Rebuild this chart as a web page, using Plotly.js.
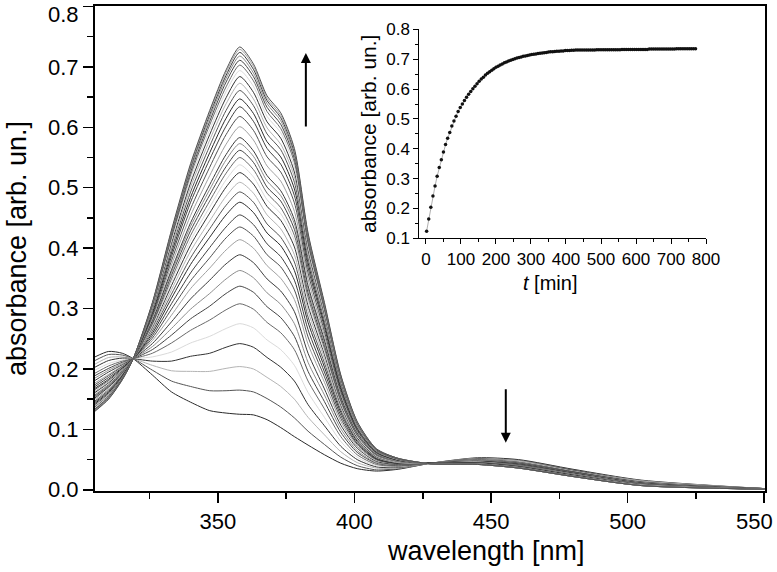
<!DOCTYPE html>
<html>
<head>
<meta charset="utf-8">
<script src="https://cdn.plot.ly/plotly-3.0.1.min.js"></script>
<style>html,body{margin:0;padding:0;background:#fff;}#chart{width:777px;height:572px;}</style>
</head>
<body>
<div id="chart"></div>
<script>
// ---- data: absorption spectra (wavelength in nm) ----
const wavelength = [305,310,315,319,326,333,340,347,353,358,363,368,373,378,383,389,395,401,408,416,428,445,460,480,505,550];

const A01 = [0.220,0.229,0.226,0.217,0.190,0.162,0.145,0.131,0.127,0.125,0.124,0.116,0.103,0.088,0.074,0.058,0.044,0.035,0.031,0.034,0.044,0.053,0.050,0.034,0.016,0.002];
const A02 = [0.214,0.224,0.223,0.217,0.198,0.180,0.171,0.164,0.164,0.165,0.162,0.151,0.137,0.119,0.097,0.075,0.054,0.040,0.033,0.035,0.044,0.052,0.049,0.033,0.015,0.002];
const A03 = [0.208,0.219,0.220,0.217,0.206,0.197,0.196,0.196,0.201,0.204,0.200,0.186,0.171,0.150,0.120,0.091,0.063,0.045,0.036,0.036,0.044,0.052,0.048,0.032,0.015,0.002];
const A04 = [0.203,0.214,0.218,0.217,0.213,0.213,0.221,0.226,0.236,0.242,0.236,0.219,0.203,0.180,0.141,0.106,0.072,0.050,0.038,0.037,0.044,0.051,0.047,0.032,0.014,0.002];
const A05 = [0.198,0.209,0.215,0.217,0.220,0.228,0.243,0.254,0.267,0.275,0.268,0.248,0.232,0.206,0.161,0.120,0.080,0.054,0.040,0.038,0.044,0.050,0.047,0.031,0.014,0.002];
const A06 = [0.193,0.205,0.213,0.217,0.226,0.243,0.264,0.281,0.298,0.308,0.299,0.277,0.260,0.232,0.180,0.134,0.088,0.058,0.042,0.039,0.044,0.050,0.046,0.030,0.013,0.002];
const A07 = [0.189,0.201,0.211,0.217,0.232,0.256,0.283,0.304,0.325,0.337,0.327,0.303,0.285,0.254,0.196,0.146,0.095,0.062,0.044,0.040,0.044,0.049,0.045,0.030,0.013,0.002];
const A08 = [0.185,0.198,0.209,0.217,0.237,0.267,0.299,0.325,0.349,0.363,0.351,0.326,0.307,0.275,0.211,0.157,0.101,0.065,0.045,0.041,0.044,0.049,0.045,0.029,0.012,0.002];
const A09 = [0.181,0.195,0.207,0.217,0.242,0.278,0.316,0.347,0.374,0.389,0.376,0.349,0.329,0.295,0.226,0.167,0.107,0.069,0.047,0.042,0.044,0.048,0.044,0.029,0.012,0.002];
const A10 = [0.177,0.191,0.205,0.217,0.247,0.289,0.333,0.367,0.397,0.414,0.400,0.371,0.350,0.315,0.241,0.178,0.113,0.072,0.049,0.043,0.044,0.048,0.043,0.028,0.012,0.002];
const A11 = [0.174,0.189,0.204,0.217,0.251,0.299,0.346,0.384,0.417,0.435,0.420,0.389,0.369,0.331,0.253,0.187,0.118,0.075,0.050,0.043,0.044,0.047,0.043,0.028,0.011,0.002];
const A12 = [0.171,0.186,0.202,0.217,0.255,0.308,0.359,0.401,0.435,0.455,0.439,0.407,0.386,0.347,0.265,0.195,0.123,0.077,0.051,0.044,0.044,0.047,0.042,0.027,0.011,0.001];
const A13 = [0.168,0.183,0.201,0.217,0.259,0.317,0.373,0.418,0.455,0.476,0.459,0.425,0.404,0.363,0.277,0.203,0.128,0.080,0.052,0.044,0.044,0.047,0.042,0.027,0.011,0.001];
const A14 = [0.166,0.181,0.199,0.217,0.263,0.324,0.384,0.432,0.471,0.493,0.476,0.440,0.418,0.377,0.286,0.210,0.132,0.082,0.053,0.045,0.044,0.046,0.042,0.027,0.011,0.001];
const A15 = [0.163,0.179,0.198,0.217,0.266,0.331,0.395,0.445,0.486,0.509,0.491,0.455,0.432,0.389,0.296,0.217,0.136,0.084,0.054,0.045,0.044,0.046,0.041,0.026,0.010,0.001];
const A16 = [0.161,0.177,0.197,0.217,0.269,0.338,0.405,0.458,0.501,0.525,0.506,0.469,0.446,0.402,0.305,0.224,0.140,0.086,0.055,0.046,0.044,0.046,0.041,0.026,0.010,0.001];
const A17 = [0.159,0.175,0.196,0.217,0.271,0.344,0.413,0.468,0.513,0.538,0.518,0.480,0.457,0.412,0.312,0.229,0.143,0.088,0.056,0.046,0.044,0.046,0.040,0.026,0.010,0.001];
const A18 = [0.157,0.174,0.195,0.217,0.274,0.349,0.421,0.478,0.524,0.550,0.530,0.491,0.467,0.421,0.319,0.234,0.146,0.090,0.057,0.047,0.044,0.045,0.040,0.026,0.010,0.001];
const A19 = [0.155,0.172,0.194,0.217,0.276,0.355,0.429,0.488,0.535,0.562,0.542,0.501,0.478,0.431,0.326,0.239,0.149,0.091,0.058,0.047,0.044,0.045,0.040,0.025,0.010,0.001];
const A20 = [0.154,0.171,0.194,0.217,0.278,0.360,0.436,0.497,0.546,0.573,0.552,0.511,0.487,0.440,0.333,0.244,0.152,0.092,0.058,0.047,0.044,0.045,0.040,0.025,0.009,0.001];
const A21 = [0.152,0.170,0.193,0.217,0.280,0.364,0.442,0.505,0.555,0.583,0.561,0.520,0.495,0.447,0.338,0.248,0.154,0.094,0.059,0.048,0.044,0.045,0.039,0.025,0.009,0.001];
const A22 = [0.150,0.167,0.192,0.217,0.284,0.372,0.454,0.520,0.572,0.601,0.579,0.536,0.511,0.461,0.349,0.255,0.158,0.096,0.060,0.048,0.044,0.044,0.039,0.025,0.009,0.001];
const A23 = [0.147,0.165,0.190,0.217,0.287,0.379,0.465,0.534,0.588,0.618,0.595,0.551,0.526,0.475,0.359,0.262,0.162,0.098,0.061,0.049,0.044,0.044,0.039,0.024,0.009,0.001];
const A24 = [0.145,0.163,0.189,0.217,0.290,0.386,0.476,0.547,0.602,0.634,0.610,0.565,0.539,0.487,0.368,0.269,0.166,0.100,0.062,0.049,0.044,0.044,0.038,0.024,0.008,0.001];
const A25 = [0.143,0.161,0.188,0.217,0.293,0.392,0.484,0.558,0.615,0.647,0.623,0.576,0.551,0.498,0.376,0.274,0.169,0.102,0.063,0.049,0.044,0.044,0.038,0.024,0.008,0.001];
const A26 = [0.141,0.159,0.187,0.217,0.296,0.398,0.493,0.569,0.628,0.661,0.636,0.589,0.563,0.509,0.384,0.280,0.173,0.104,0.064,0.050,0.043,0.043,0.038,0.023,0.008,0.001];
const A27 = [0.139,0.158,0.186,0.217,0.298,0.403,0.501,0.579,0.639,0.673,0.647,0.599,0.572,0.518,0.390,0.285,0.176,0.105,0.064,0.050,0.043,0.043,0.037,0.023,0.008,0.001];
const A28 = [0.137,0.156,0.186,0.217,0.300,0.408,0.508,0.588,0.649,0.684,0.658,0.609,0.582,0.526,0.397,0.290,0.178,0.107,0.065,0.051,0.043,0.043,0.037,0.023,0.008,0.001];
const A29 = [0.136,0.155,0.185,0.217,0.302,0.413,0.515,0.596,0.659,0.694,0.668,0.618,0.591,0.534,0.403,0.294,0.181,0.108,0.066,0.051,0.043,0.043,0.037,0.023,0.008,0.001];
const A30 = [0.134,0.154,0.184,0.217,0.304,0.417,0.521,0.604,0.667,0.703,0.677,0.626,0.598,0.542,0.408,0.298,0.183,0.109,0.066,0.051,0.043,0.043,0.037,0.023,0.007,0.001];
const A31 = [0.133,0.153,0.184,0.217,0.306,0.420,0.526,0.610,0.675,0.711,0.684,0.633,0.605,0.548,0.412,0.301,0.185,0.110,0.067,0.051,0.043,0.042,0.036,0.022,0.007,0.001];
const A32 = [0.132,0.152,0.183,0.217,0.307,0.423,0.530,0.616,0.681,0.718,0.690,0.639,0.611,0.553,0.416,0.304,0.186,0.111,0.067,0.052,0.043,0.042,0.036,0.022,0.007,0.001];
const A33 = [0.131,0.151,0.183,0.217,0.308,0.426,0.534,0.621,0.686,0.724,0.696,0.644,0.616,0.558,0.420,0.306,0.188,0.112,0.067,0.052,0.043,0.042,0.036,0.022,0.007,0.001];
const A34 = [0.131,0.151,0.182,0.217,0.309,0.428,0.537,0.625,0.691,0.729,0.701,0.648,0.620,0.562,0.423,0.308,0.189,0.112,0.068,0.052,0.043,0.042,0.036,0.022,0.007,0.001];
const A35 = [0.130,0.150,0.182,0.217,0.310,0.430,0.540,0.628,0.695,0.733,0.705,0.652,0.624,0.565,0.425,0.310,0.190,0.113,0.068,0.052,0.043,0.042,0.036,0.022,0.007,0.001];

const spectra = [A01,A02,A03,A04,A05,A06,A07,A08,A09,A10,A11,A12,A13,A14,A15,A16,A17,A18,A19,A20,
                 A21,A22,A23,A24,A25,A26,A27,A28,A29,A30,A31,A32,A33,A34,A35];

// ---- data: inset kinetics (absorbance at band maximum vs time) ----
const timeMin = [2,8,14,20,26,32,38,44,50,56,62,68,74,80,86,92,98,104,110,116,122,128,134,140,146,152,158,164,170,176,
  182,188,194,200,206,212,218,224,230,236,242,248,254,260,266,272,278,284,290,296,302,308,314,320,326,332,338,344,350,356,
  362,368,374,380,386,392,398,404,410,416,422,428,434,440,446,452,458,464,470,476,482,488,494,500,506,512,518,524,530,536,
  542,548,554,560,566,572,578,584,590,596,602,608,614,620,626,632,638,644,650,656,662,668,674,680,686,692,698,704,710,716,
  722,728,734,740,746,752,758,764,770];
const absMax = [0.124,0.165,0.204,0.242,0.275,0.308,0.337,0.363,0.389,0.414,0.435,0.455,0.476,0.493,0.509,0.525,0.538,0.550,0.562,0.573,
  0.583,0.592,0.601,0.610,0.618,0.626,0.634,0.640,0.647,0.653,0.658,0.663,0.668,0.673,0.677,0.681,0.684,0.688,0.691,0.694,
  0.697,0.699,0.702,0.704,0.706,0.708,0.710,0.711,0.713,0.714,0.716,0.717,0.718,0.719,0.720,0.721,0.722,0.723,0.724,0.725,
  0.725,0.726,0.727,0.727,0.728,0.728,0.729,0.729,0.729,0.730,0.730,
  0.731,0.731,0.731,0.731,0.731,0.731,0.731,0.731,0.731,0.731,
  0.732,0.732,0.732,0.732,0.732,0.732,0.732,0.732,0.732,0.732,0.732,0.732,
  0.733,0.733,0.733,0.733,0.733,0.733,0.733,0.733,0.733,0.733,0.733,0.733,0.733,
  0.734,0.734,0.734,0.734,0.734,0.734,0.734,0.734,0.734,0.734,0.734,0.734,0.734,
  0.735,0.735,0.735,0.735,0.735,0.735,0.735,0.735,0.735,0.735];

// ---- tick labels ----
const wlTicks = [350, 400, 450, 500, 550];
const wlTickText = ['350', '400', '450', '500', ''];   // '550' drawn as a shifted label (edge of figure)
const absTicks = [0, 0.1, 0.2, 0.3, 0.4, 0.5, 0.6, 0.7, 0.8];
const absTickText = ['0.0', '0.1', '0.2', '0.3', '0.4', '0.5', '0.6', '0.7', ''];  // '0.8' drawn as a shifted label
const tTicks = [0, 100, 200, 300, 400, 500, 600, 700, 800];

// ---- styles ----
const grayCycle = ['#2a2a2a','#555555','#b4b4b4','#333333','#dadada','#6a6a6a','#444444','#8c8c8c','#3a3a3a','#a0a0a0','#505050','#404040'];

const traces = spectra.map((ys, i) => ({
  x: wavelength, y: ys, type: 'scatter', mode: 'lines',
  line: {color: grayCycle[i % grayCycle.length], width: 1, shape: 'spline', smoothing: 0.7},
  xaxis: 'x', yaxis: 'y', hoverinfo: 'skip'
}));

traces.push({
  x: timeMin, y: absMax, type: 'scatter', mode: 'lines+markers',
  line: {color: '#9a9a9a', width: 0.8},
  marker: {color: '#111', size: 3.5},
  xaxis: 'x2', yaxis: 'y2', hoverinfo: 'skip'
});

const FONT = 'Liberation Sans, Arial, Helvetica, sans-serif';
const axisCommon = {showgrid: false, zeroline: false, showline: true, linecolor: '#000', tickcolor: '#000', ticks: 'outside'};

const layout = {
  width: 777, height: 572,
  margin: {l: 95, r: 12, t: 6, b: 81},
  paper_bgcolor: '#fff', plot_bgcolor: '#fff',
  showlegend: false,
  font: {family: FONT, color: '#000'},
  xaxis: Object.assign({}, axisCommon, {
    range: [305, 550.3], tickmode: 'array', tickvals: wlTicks, ticktext: wlTickText,
    ticklen: 10, tickwidth: 1.5, linewidth: 2, mirror: true,
    tickfont: {size: 22, family: FONT},
    minor: {tickvals: [325, 375, 425, 475, 525], ticks: 'outside', ticklen: 6, tickwidth: 1.5, tickcolor: '#000', showgrid: false},
    automargin: false
  }),
  yaxis: Object.assign({}, axisCommon, {
    range: [-0.002, 0.8008], tickmode: 'array', tickvals: absTicks, ticktext: absTickText,
    ticklen: 10, tickwidth: 1.5, linewidth: 2, mirror: true,
    tickfont: {size: 22, family: FONT},
    minor: {dtick: 0.05, tick0: 0, ticks: 'outside', ticklen: 6, tickwidth: 1.5, tickcolor: '#000', showgrid: false},
    title: {text: 'absorbance [arb. un.]', font: {size: 27, family: FONT}, standoff: 14},
    automargin: false
  }),
  xaxis2: Object.assign({}, axisCommon, {
    domain: [0.484, 0.912], anchor: 'y2', range: [-19, 800],
    tickvals: tTicks,
    ticklen: 5, tickwidth: 1, linewidth: 1,
    tickfont: {size: 17, family: FONT},
    minor: {tickvals: [50, 150, 250, 350, 450, 550, 650, 750], ticks: 'outside', ticklen: 3, tickwidth: 1, tickcolor: '#000', showgrid: false}
  }),
  yaxis2: Object.assign({}, axisCommon, {
    domain: [0.521, 0.952], anchor: 'x2', range: [0.1, 0.8005],
    tick0: 0.1, dtick: 0.1, tickformat: '.1f',
    ticklen: 5, tickwidth: 1, linewidth: 1,
    tickfont: {size: 17, family: FONT},
    minor: {dtick: 0.05, ticks: 'outside', ticklen: 3, tickwidth: 1, tickcolor: '#000', showgrid: false},
    title: {text: 'absorbance [arb. un.]', font: {size: 21, family: FONT}, standoff: 3}
  }),
  annotations: [
    {x: 0.5836, y: -0.124, xref: 'paper', yref: 'paper', xanchor: 'center', yanchor: 'middle',
     text: 'wavelength [nm]', showarrow: false, font: {size: 27, family: FONT, color: '#000'}},
    {x: 0.9836, y: -0.062, xref: 'paper', yref: 'paper', xanchor: 'center', yanchor: 'middle',
     text: '550', showarrow: false, font: {size: 22, family: FONT, color: '#000'}},
    {x: -0.021, y: 0.9835, xref: 'paper', yref: 'paper', xanchor: 'right', yanchor: 'middle',
     text: '0.8', showarrow: false, font: {size: 22, family: FONT, color: '#000'}},
    {x: 0.679, y: 0.429, xref: 'paper', yref: 'paper', xanchor: 'center', yanchor: 'middle',
     text: '<i>t</i> [min]', showarrow: false, font: {size: 20, family: FONT, color: '#000'}},
    {x: 382.2, y: 0.723, ax: 382.2, ay: 0.599, xref: 'x', yref: 'y', axref: 'x', ayref: 'y',
     showarrow: true, arrowhead: 2, arrowsize: 1, arrowwidth: 2, arrowcolor: '#000', text: ''},
    {x: 455.4, y: 0.078, ax: 455.4, ay: 0.169, xref: 'x', yref: 'y', axref: 'x', ayref: 'y',
     showarrow: true, arrowhead: 2, arrowsize: 1, arrowwidth: 2, arrowcolor: '#000', text: ''}
  ]
};

Plotly.newPlot('chart', traces, layout, {staticPlot: true, displayModeBar: false});
</script>
</body>
</html>
